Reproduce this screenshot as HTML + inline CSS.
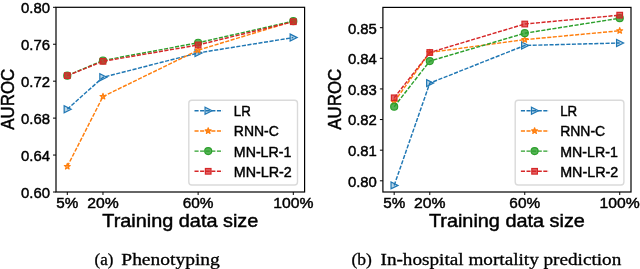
<!DOCTYPE html>
<html><head><meta charset="utf-8"><style>
html,body{margin:0;padding:0;background:#fff;width:640px;height:269px;overflow:hidden}
svg{display:block;will-change:transform}
</style></head><body>
<svg width="640" height="269" viewBox="0 0 640 269">
<rect width="640" height="269" fill="#fff"/>
<polyline points="67.30,109.25 102.98,77.30 198.14,52.92 293.30,37.59" fill="none" stroke="#1f77b4" stroke-width="1.45" stroke-dasharray="4.1 1.5"/>
<polygon points="64.15,105.75 64.15,112.75 71.15,109.25" fill="#1f77b4" fill-opacity="0.3" stroke="#1f77b4" stroke-width="1.2" stroke-linejoin="miter"/>
<polygon points="99.83,73.80 99.83,80.80 106.83,77.30" fill="#1f77b4" fill-opacity="0.3" stroke="#1f77b4" stroke-width="1.2" stroke-linejoin="miter"/>
<polygon points="194.99,49.42 194.99,56.42 201.99,52.92" fill="#1f77b4" fill-opacity="0.3" stroke="#1f77b4" stroke-width="1.2" stroke-linejoin="miter"/>
<polygon points="290.15,34.09 290.15,41.09 297.15,37.59" fill="#1f77b4" fill-opacity="0.3" stroke="#1f77b4" stroke-width="1.2" stroke-linejoin="miter"/>
<polyline points="67.30,166.51 102.98,96.51 198.14,50.15 293.30,21.15" fill="none" stroke="#ff7f0e" stroke-width="1.45" stroke-dasharray="4.1 1.5"/>
<polygon points="67.30,163.41 68.00,165.55 70.25,165.55 68.43,166.88 69.12,169.02 67.30,167.70 65.48,169.02 66.17,166.88 64.35,165.55 66.60,165.55" fill="#ff7f0e" fill-opacity="0.35" stroke="#ff7f0e" stroke-width="1.2" stroke-linejoin="round"/>
<polygon points="102.98,93.41 103.68,95.55 105.93,95.55 104.11,96.88 104.81,99.02 102.98,97.69 101.16,99.02 101.86,96.88 100.04,95.55 102.29,95.55" fill="#ff7f0e" fill-opacity="0.35" stroke="#ff7f0e" stroke-width="1.2" stroke-linejoin="round"/>
<polygon points="198.14,47.05 198.84,49.19 201.09,49.19 199.27,50.52 199.96,52.66 198.14,51.33 196.32,52.66 197.02,50.52 195.19,49.19 197.45,49.19" fill="#ff7f0e" fill-opacity="0.35" stroke="#ff7f0e" stroke-width="1.2" stroke-linejoin="round"/>
<polygon points="293.30,18.05 294.00,20.19 296.25,20.19 294.43,21.52 295.12,23.66 293.30,22.34 291.48,23.66 292.17,21.52 290.35,20.19 292.60,20.19" fill="#ff7f0e" fill-opacity="0.35" stroke="#ff7f0e" stroke-width="1.2" stroke-linejoin="round"/>
<polyline points="67.30,75.64 102.98,60.49 198.14,42.76 293.30,21.15" fill="none" stroke="#2ca02c" stroke-width="1.45" stroke-dasharray="4.1 1.5"/>
<circle cx="67.30" cy="75.64" r="3.50" fill="#2ca02c" fill-opacity="0.8" stroke="#2ca02c" stroke-width="1.2"/>
<circle cx="102.98" cy="60.49" r="3.50" fill="#2ca02c" fill-opacity="0.8" stroke="#2ca02c" stroke-width="1.2"/>
<circle cx="198.14" cy="42.76" r="3.50" fill="#2ca02c" fill-opacity="0.8" stroke="#2ca02c" stroke-width="1.2"/>
<circle cx="293.30" cy="21.15" r="3.50" fill="#2ca02c" fill-opacity="0.8" stroke="#2ca02c" stroke-width="1.2"/>
<polyline points="67.30,75.64 102.98,61.32 198.14,44.98 293.30,21.71" fill="none" stroke="#d62728" stroke-width="1.45" stroke-dasharray="4.1 1.5"/>
<rect x="64.50" y="72.84" width="5.60" height="5.60" fill="#d62728" fill-opacity="0.7" stroke="#d62728" stroke-width="1.2"/>
<rect x="100.18" y="58.52" width="5.60" height="5.60" fill="#d62728" fill-opacity="0.7" stroke="#d62728" stroke-width="1.2"/>
<rect x="195.34" y="42.18" width="5.60" height="5.60" fill="#d62728" fill-opacity="0.7" stroke="#d62728" stroke-width="1.2"/>
<rect x="290.50" y="18.91" width="5.60" height="5.60" fill="#d62728" fill-opacity="0.7" stroke="#d62728" stroke-width="1.2"/>
<rect x="56.0" y="7.3" width="248.60000000000002" height="184.7" fill="none" stroke="#000" stroke-width="1.2"/>
<line x1="53.0" y1="192.00" x2="56.0" y2="192.00" stroke="#000" stroke-width="1"/>
<text x="50.0" y="197.90" font-size="15.2" text-anchor="end" font-family='"Liberation Sans", sans-serif' textLength="29" lengthAdjust="spacingAndGlyphs" stroke="#000" stroke-width="0.45" >0.60</text>
<line x1="53.0" y1="155.06" x2="56.0" y2="155.06" stroke="#000" stroke-width="1"/>
<text x="50.0" y="160.96" font-size="15.2" text-anchor="end" font-family='"Liberation Sans", sans-serif' textLength="29" lengthAdjust="spacingAndGlyphs" stroke="#000" stroke-width="0.45" >0.64</text>
<line x1="53.0" y1="118.12" x2="56.0" y2="118.12" stroke="#000" stroke-width="1"/>
<text x="50.0" y="124.02" font-size="15.2" text-anchor="end" font-family='"Liberation Sans", sans-serif' textLength="29" lengthAdjust="spacingAndGlyphs" stroke="#000" stroke-width="0.45" >0.68</text>
<line x1="53.0" y1="81.18" x2="56.0" y2="81.18" stroke="#000" stroke-width="1"/>
<text x="50.0" y="87.08" font-size="15.2" text-anchor="end" font-family='"Liberation Sans", sans-serif' textLength="29" lengthAdjust="spacingAndGlyphs" stroke="#000" stroke-width="0.45" >0.72</text>
<line x1="53.0" y1="44.24" x2="56.0" y2="44.24" stroke="#000" stroke-width="1"/>
<text x="50.0" y="50.14" font-size="15.2" text-anchor="end" font-family='"Liberation Sans", sans-serif' textLength="29" lengthAdjust="spacingAndGlyphs" stroke="#000" stroke-width="0.45" >0.76</text>
<line x1="53.0" y1="7.30" x2="56.0" y2="7.30" stroke="#000" stroke-width="1"/>
<text x="50.0" y="13.20" font-size="15.2" text-anchor="end" font-family='"Liberation Sans", sans-serif' textLength="29" lengthAdjust="spacingAndGlyphs" stroke="#000" stroke-width="0.45" >0.80</text>
<line x1="67.30" y1="192.0" x2="67.30" y2="195.0" stroke="#000" stroke-width="1"/>
<text x="67.30" y="207.9" font-size="15.2" text-anchor="middle" font-family='"Liberation Sans", sans-serif' textLength="22" lengthAdjust="spacingAndGlyphs" stroke="#000" stroke-width="0.45" >5%</text>
<line x1="102.98" y1="192.0" x2="102.98" y2="195.0" stroke="#000" stroke-width="1"/>
<text x="102.98" y="207.9" font-size="15.2" text-anchor="middle" font-family='"Liberation Sans", sans-serif' textLength="31.5" lengthAdjust="spacingAndGlyphs" stroke="#000" stroke-width="0.45" >20%</text>
<line x1="198.14" y1="192.0" x2="198.14" y2="195.0" stroke="#000" stroke-width="1"/>
<text x="198.14" y="207.9" font-size="15.2" text-anchor="middle" font-family='"Liberation Sans", sans-serif' textLength="30.8" lengthAdjust="spacingAndGlyphs" stroke="#000" stroke-width="0.45" >60%</text>
<line x1="293.30" y1="192.0" x2="293.30" y2="195.0" stroke="#000" stroke-width="1"/>
<text x="293.30" y="207.9" font-size="15.2" text-anchor="middle" font-family='"Liberation Sans", sans-serif' textLength="40.2" lengthAdjust="spacingAndGlyphs" stroke="#000" stroke-width="0.45" >100%</text>
<text x="180.3" y="226.6" font-size="18.4" text-anchor="middle" font-family='"Liberation Sans", sans-serif' textLength="156" lengthAdjust="spacingAndGlyphs" stroke="#000" stroke-width="0.45" >Training data size</text>
<text x="0" y="0" font-size="18.4" stroke="#000" stroke-width="0.45" text-anchor="middle" font-family='"Liberation Sans", sans-serif' textLength="61" lengthAdjust="spacingAndGlyphs" transform="translate(14.4,99.2) rotate(-90)">AUROC</text>
<rect x="188.8" y="100.2" width="108.7" height="84.8" rx="3" fill="#fff" fill-opacity="0.8" stroke="#dadada" stroke-width="1.4"/>
<line x1="194.5" y1="110.70" x2="222.60000000000002" y2="110.70" stroke="#1f77b4" stroke-width="1.45" stroke-dasharray="4.1 1.5"/>
<polygon points="205.05,107.20 205.05,114.20 212.05,110.70" fill="#1f77b4" fill-opacity="0.3" stroke="#1f77b4" stroke-width="1.2" stroke-linejoin="miter"/>
<text x="233.8" y="116.20" font-size="15" text-anchor="start" font-family='"Liberation Sans", sans-serif' textLength="17" lengthAdjust="spacingAndGlyphs" stroke="#000" stroke-width="0.45" >LR</text>
<line x1="194.5" y1="130.90" x2="222.60000000000002" y2="130.90" stroke="#ff7f0e" stroke-width="1.45" stroke-dasharray="4.1 1.5"/>
<polygon points="208.20,127.80 208.90,129.94 211.15,129.94 209.33,131.27 210.02,133.41 208.20,132.08 206.38,133.41 207.07,131.27 205.25,129.94 207.50,129.94" fill="#ff7f0e" fill-opacity="0.35" stroke="#ff7f0e" stroke-width="1.2" stroke-linejoin="round"/>
<text x="233.8" y="136.40" font-size="15" text-anchor="start" font-family='"Liberation Sans", sans-serif' textLength="45" lengthAdjust="spacingAndGlyphs" stroke="#000" stroke-width="0.45" >RNN-C</text>
<line x1="194.5" y1="151.10" x2="222.60000000000002" y2="151.10" stroke="#2ca02c" stroke-width="1.45" stroke-dasharray="4.1 1.5"/>
<circle cx="208.20" cy="151.10" r="3.50" fill="#2ca02c" fill-opacity="0.8" stroke="#2ca02c" stroke-width="1.2"/>
<text x="233.8" y="156.60" font-size="15" text-anchor="start" font-family='"Liberation Sans", sans-serif' textLength="57.6" lengthAdjust="spacingAndGlyphs" stroke="#000" stroke-width="0.45" >MN-LR-1</text>
<line x1="194.5" y1="171.30" x2="222.60000000000002" y2="171.30" stroke="#d62728" stroke-width="1.45" stroke-dasharray="4.1 1.5"/>
<rect x="205.40" y="168.50" width="5.60" height="5.60" fill="#d62728" fill-opacity="0.7" stroke="#d62728" stroke-width="1.2"/>
<text x="233.8" y="176.80" font-size="15" text-anchor="start" font-family='"Liberation Sans", sans-serif' textLength="58" lengthAdjust="spacingAndGlyphs" stroke="#000" stroke-width="0.45" >MN-LR-2</text>
<polyline points="394.18,185.39 429.79,83.12 524.76,45.46 619.72,43.01" fill="none" stroke="#1f77b4" stroke-width="1.45" stroke-dasharray="4.1 1.5"/>
<polygon points="391.03,181.89 391.03,188.89 398.03,185.39" fill="#1f77b4" fill-opacity="0.3" stroke="#1f77b4" stroke-width="1.2" stroke-linejoin="miter"/>
<polygon points="426.64,79.62 426.64,86.62 433.64,83.12" fill="#1f77b4" fill-opacity="0.3" stroke="#1f77b4" stroke-width="1.2" stroke-linejoin="miter"/>
<polygon points="521.61,41.96 521.61,48.96 528.61,45.46" fill="#1f77b4" fill-opacity="0.3" stroke="#1f77b4" stroke-width="1.2" stroke-linejoin="miter"/>
<polygon points="616.57,39.51 616.57,46.51 623.57,43.01" fill="#1f77b4" fill-opacity="0.3" stroke="#1f77b4" stroke-width="1.2" stroke-linejoin="miter"/>
<polyline points="394.18,101.80 429.79,52.50 524.76,39.64 619.72,30.76" fill="none" stroke="#ff7f0e" stroke-width="1.45" stroke-dasharray="4.1 1.5"/>
<polygon points="394.18,98.70 394.87,100.84 397.13,100.84 395.30,102.17 396.00,104.31 394.18,102.98 392.36,104.31 393.05,102.17 391.23,100.84 393.48,100.84" fill="#ff7f0e" fill-opacity="0.35" stroke="#ff7f0e" stroke-width="1.2" stroke-linejoin="round"/>
<polygon points="429.79,49.40 430.49,51.54 432.74,51.54 430.92,52.87 431.61,55.01 429.79,53.69 427.97,55.01 428.66,52.87 426.84,51.54 429.09,51.54" fill="#ff7f0e" fill-opacity="0.35" stroke="#ff7f0e" stroke-width="1.2" stroke-linejoin="round"/>
<polygon points="524.76,36.54 525.45,38.68 527.70,38.68 525.88,40.01 526.58,42.15 524.76,40.83 522.93,42.15 523.63,40.01 521.81,38.68 524.06,38.68" fill="#ff7f0e" fill-opacity="0.35" stroke="#ff7f0e" stroke-width="1.2" stroke-linejoin="round"/>
<polygon points="619.72,27.66 620.42,29.80 622.67,29.80 620.85,31.13 621.54,33.27 619.72,31.95 617.90,33.27 618.60,31.13 616.77,29.80 619.03,29.80" fill="#ff7f0e" fill-opacity="0.35" stroke="#ff7f0e" stroke-width="1.2" stroke-linejoin="round"/>
<polyline points="394.18,106.70 429.79,61.08 524.76,33.21 619.72,18.21" fill="none" stroke="#2ca02c" stroke-width="1.45" stroke-dasharray="4.1 1.5"/>
<circle cx="394.18" cy="106.70" r="3.50" fill="#2ca02c" fill-opacity="0.8" stroke="#2ca02c" stroke-width="1.2"/>
<circle cx="429.79" cy="61.08" r="3.50" fill="#2ca02c" fill-opacity="0.8" stroke="#2ca02c" stroke-width="1.2"/>
<circle cx="524.76" cy="33.21" r="3.50" fill="#2ca02c" fill-opacity="0.8" stroke="#2ca02c" stroke-width="1.2"/>
<circle cx="619.72" cy="18.21" r="3.50" fill="#2ca02c" fill-opacity="0.8" stroke="#2ca02c" stroke-width="1.2"/>
<polyline points="394.18,97.82 429.79,52.50 524.76,24.03 619.72,15.15" fill="none" stroke="#d62728" stroke-width="1.45" stroke-dasharray="4.1 1.5"/>
<rect x="391.38" y="95.02" width="5.60" height="5.60" fill="#d62728" fill-opacity="0.7" stroke="#d62728" stroke-width="1.2"/>
<rect x="426.99" y="49.70" width="5.60" height="5.60" fill="#d62728" fill-opacity="0.7" stroke="#d62728" stroke-width="1.2"/>
<rect x="521.96" y="21.23" width="5.60" height="5.60" fill="#d62728" fill-opacity="0.7" stroke="#d62728" stroke-width="1.2"/>
<rect x="616.92" y="12.35" width="5.60" height="5.60" fill="#d62728" fill-opacity="0.7" stroke="#d62728" stroke-width="1.2"/>
<rect x="382.9" y="7.4" width="248.10000000000002" height="184.6" fill="none" stroke="#000" stroke-width="1.2"/>
<line x1="379.9" y1="180.80" x2="382.9" y2="180.80" stroke="#000" stroke-width="1"/>
<text x="376.9" y="186.70" font-size="15.2" text-anchor="end" font-family='"Liberation Sans", sans-serif' textLength="29" lengthAdjust="spacingAndGlyphs" stroke="#000" stroke-width="0.45" >0.80</text>
<line x1="379.9" y1="150.18" x2="382.9" y2="150.18" stroke="#000" stroke-width="1"/>
<text x="376.9" y="156.08" font-size="15.2" text-anchor="end" font-family='"Liberation Sans", sans-serif' textLength="29" lengthAdjust="spacingAndGlyphs" stroke="#000" stroke-width="0.45" >0.81</text>
<line x1="379.9" y1="119.56" x2="382.9" y2="119.56" stroke="#000" stroke-width="1"/>
<text x="376.9" y="125.46" font-size="15.2" text-anchor="end" font-family='"Liberation Sans", sans-serif' textLength="29" lengthAdjust="spacingAndGlyphs" stroke="#000" stroke-width="0.45" >0.82</text>
<line x1="379.9" y1="88.94" x2="382.9" y2="88.94" stroke="#000" stroke-width="1"/>
<text x="376.9" y="94.84" font-size="15.2" text-anchor="end" font-family='"Liberation Sans", sans-serif' textLength="29" lengthAdjust="spacingAndGlyphs" stroke="#000" stroke-width="0.45" >0.83</text>
<line x1="379.9" y1="58.32" x2="382.9" y2="58.32" stroke="#000" stroke-width="1"/>
<text x="376.9" y="64.22" font-size="15.2" text-anchor="end" font-family='"Liberation Sans", sans-serif' textLength="29" lengthAdjust="spacingAndGlyphs" stroke="#000" stroke-width="0.45" >0.84</text>
<line x1="379.9" y1="27.70" x2="382.9" y2="27.70" stroke="#000" stroke-width="1"/>
<text x="376.9" y="33.60" font-size="15.2" text-anchor="end" font-family='"Liberation Sans", sans-serif' textLength="29" lengthAdjust="spacingAndGlyphs" stroke="#000" stroke-width="0.45" >0.85</text>
<line x1="394.18" y1="192.0" x2="394.18" y2="195.0" stroke="#000" stroke-width="1"/>
<text x="394.18" y="207.9" font-size="15.2" text-anchor="middle" font-family='"Liberation Sans", sans-serif' textLength="22" lengthAdjust="spacingAndGlyphs" stroke="#000" stroke-width="0.45" >5%</text>
<line x1="429.79" y1="192.0" x2="429.79" y2="195.0" stroke="#000" stroke-width="1"/>
<text x="429.79" y="207.9" font-size="15.2" text-anchor="middle" font-family='"Liberation Sans", sans-serif' textLength="31.5" lengthAdjust="spacingAndGlyphs" stroke="#000" stroke-width="0.45" >20%</text>
<line x1="524.76" y1="192.0" x2="524.76" y2="195.0" stroke="#000" stroke-width="1"/>
<text x="524.76" y="207.9" font-size="15.2" text-anchor="middle" font-family='"Liberation Sans", sans-serif' textLength="30.8" lengthAdjust="spacingAndGlyphs" stroke="#000" stroke-width="0.45" >60%</text>
<line x1="619.72" y1="192.0" x2="619.72" y2="195.0" stroke="#000" stroke-width="1"/>
<text x="619.72" y="207.9" font-size="15.2" text-anchor="middle" font-family='"Liberation Sans", sans-serif' textLength="40.2" lengthAdjust="spacingAndGlyphs" stroke="#000" stroke-width="0.45" >100%</text>
<text x="506.9" y="226.6" font-size="18.4" text-anchor="middle" font-family='"Liberation Sans", sans-serif' textLength="156" lengthAdjust="spacingAndGlyphs" stroke="#000" stroke-width="0.45" >Training data size</text>
<text x="0" y="0" font-size="18.4" stroke="#000" stroke-width="0.45" text-anchor="middle" font-family='"Liberation Sans", sans-serif' textLength="61" lengthAdjust="spacingAndGlyphs" transform="translate(341.3,99.2) rotate(-90)">AUROC</text>
<rect x="515.2" y="100.2" width="108.7" height="84.8" rx="3" fill="#fff" fill-opacity="0.8" stroke="#dadada" stroke-width="1.4"/>
<line x1="520.9000000000001" y1="110.70" x2="549.0" y2="110.70" stroke="#1f77b4" stroke-width="1.45" stroke-dasharray="4.1 1.5"/>
<polygon points="531.45,107.20 531.45,114.20 538.45,110.70" fill="#1f77b4" fill-opacity="0.3" stroke="#1f77b4" stroke-width="1.2" stroke-linejoin="miter"/>
<text x="560.2" y="116.20" font-size="15" text-anchor="start" font-family='"Liberation Sans", sans-serif' textLength="17" lengthAdjust="spacingAndGlyphs" stroke="#000" stroke-width="0.45" >LR</text>
<line x1="520.9000000000001" y1="130.90" x2="549.0" y2="130.90" stroke="#ff7f0e" stroke-width="1.45" stroke-dasharray="4.1 1.5"/>
<polygon points="534.60,127.80 535.30,129.94 537.55,129.94 535.73,131.27 536.42,133.41 534.60,132.08 532.78,133.41 533.47,131.27 531.65,129.94 533.90,129.94" fill="#ff7f0e" fill-opacity="0.35" stroke="#ff7f0e" stroke-width="1.2" stroke-linejoin="round"/>
<text x="560.2" y="136.40" font-size="15" text-anchor="start" font-family='"Liberation Sans", sans-serif' textLength="45" lengthAdjust="spacingAndGlyphs" stroke="#000" stroke-width="0.45" >RNN-C</text>
<line x1="520.9000000000001" y1="151.10" x2="549.0" y2="151.10" stroke="#2ca02c" stroke-width="1.45" stroke-dasharray="4.1 1.5"/>
<circle cx="534.60" cy="151.10" r="3.50" fill="#2ca02c" fill-opacity="0.8" stroke="#2ca02c" stroke-width="1.2"/>
<text x="560.2" y="156.60" font-size="15" text-anchor="start" font-family='"Liberation Sans", sans-serif' textLength="57.6" lengthAdjust="spacingAndGlyphs" stroke="#000" stroke-width="0.45" >MN-LR-1</text>
<line x1="520.9000000000001" y1="171.30" x2="549.0" y2="171.30" stroke="#d62728" stroke-width="1.45" stroke-dasharray="4.1 1.5"/>
<rect x="531.80" y="168.50" width="5.60" height="5.60" fill="#d62728" fill-opacity="0.7" stroke="#d62728" stroke-width="1.2"/>
<text x="560.2" y="176.80" font-size="15" text-anchor="start" font-family='"Liberation Sans", sans-serif' textLength="58" lengthAdjust="spacingAndGlyphs" stroke="#000" stroke-width="0.45" >MN-LR-2</text>
<text x="94.6" y="264.8" font-size="16.8" text-anchor="start" font-family='"Liberation Serif", serif' textLength="18.8" lengthAdjust="spacingAndGlyphs" stroke="#000" stroke-width="0.3" >(a)</text>
<text x="121.3" y="264.8" font-size="16.8" text-anchor="start" font-family='"Liberation Serif", serif' textLength="98.5" lengthAdjust="spacingAndGlyphs" stroke="#000" stroke-width="0.3" >Phenotyping</text>
<text x="351.4" y="264.8" font-size="16.8" text-anchor="start" font-family='"Liberation Serif", serif' textLength="20.5" lengthAdjust="spacingAndGlyphs" stroke="#000" stroke-width="0.3" >(b)</text>
<text x="380.5" y="264.8" font-size="16.8" text-anchor="start" font-family='"Liberation Serif", serif' textLength="240.8" lengthAdjust="spacingAndGlyphs" stroke="#000" stroke-width="0.3" >In-hospital mortality prediction</text>
</svg></body></html>
